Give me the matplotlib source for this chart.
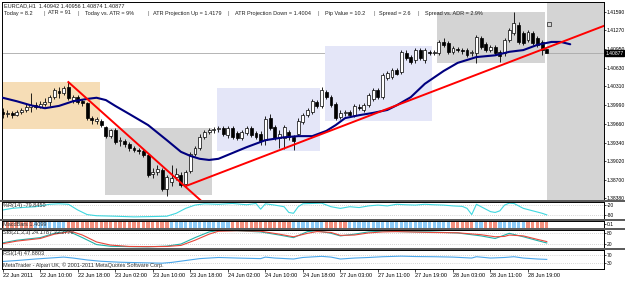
import numpy as np
import matplotlib
matplotlib.use('Agg')
import matplotlib.pyplot as plt
from matplotlib.patches import Rectangle
from matplotlib.transforms import blended_transform_factory

plt.rcParams['font.family'] = ['Liberation Sans', 'DejaVu Sans']

W, H = 625, 281
FS = 4.0
FS_AXIS = 3.6

# ---------------- data ----------------
SYMBOL = "EURCAD,H1"
LAST_OHLC = [1.40942, 1.40956, 1.40874, 1.40877]
HEADER_ITEMS = ["Today = 8.2", "ATR = 91", "Today vs. ATR = 9%",
                "ATR Projection Up = 1.4179", "ATR Projection Down = 1.4004",
                "Pip Value = 10.2", "Spread = 2.6", "Spread vs. ADR = 2.9%"]

OPEN = [1.3986, 1.3983, 1.3985, 1.3981, 1.3986, 1.3990, 1.3995, 1.3998, 1.3995, 1.4000,
        1.4004, 1.4012, 1.4023, 1.4019, 1.4029, 1.4007, 1.4012, 1.4005, 1.4002, 1.3976,
        1.3971, 1.3971, 1.3961, 1.3945, 1.3956, 1.3936, 1.3936, 1.3931, 1.3924, 1.3921,
        1.3919, 1.3912, 1.3880, 1.3883, 1.3886, 1.3854, 1.3866, 1.3875, 1.3878, 1.3863,
        1.3885, 1.3914, 1.3924, 1.3943, 1.3952, 1.3956, 1.3957, 1.3959, 1.3947, 1.3959,
        1.3950, 1.3942, 1.3950, 1.3959, 1.3950, 1.3949, 1.3938, 1.3976, 1.3961, 1.3942,
        1.3942, 1.3952, 1.3943, 1.3949, 1.3969, 1.3981, 1.3986, 1.4004, 1.3997, 1.4021,
        1.4012, 1.4000, 1.3978, 1.3985, 1.3986, 1.3981, 1.3995, 1.3990, 1.3998, 1.4009,
        1.4024, 1.4012, 1.4045, 1.4047, 1.4059, 1.4055, 1.4088, 1.4081, 1.4076, 1.4093,
        1.4076, 1.4090, 1.4088, 1.4088, 1.4107, 1.4105, 1.4090, 1.4095, 1.4093, 1.4093,
        1.4088, 1.4088, 1.4114, 1.4103, 1.4093, 1.4098, 1.4090, 1.4088, 1.4110, 1.4122,
        1.4136, 1.4122, 1.4110, 1.4122, 1.4114, 1.4107, 1.40942]
HIGH = [1.3993, 1.3990, 1.3988, 1.3990, 1.3993, 1.4000, 1.4019, 1.4004, 1.4005, 1.4011,
        1.4016, 1.4028, 1.4029, 1.4031, 1.4038, 1.4016, 1.4016, 1.4009, 1.4004, 1.3980,
        1.3978, 1.3974, 1.3962, 1.3957, 1.3959, 1.3943, 1.3940, 1.3935, 1.3928, 1.3924,
        1.3923, 1.3916, 1.3890, 1.3895, 1.3890, 1.3878, 1.3895, 1.3890, 1.3883, 1.3886,
        1.3918, 1.3928, 1.3949, 1.3956, 1.3959, 1.3961, 1.3962, 1.3962, 1.3962, 1.3962,
        1.3954, 1.3956, 1.3962, 1.3962, 1.3954, 1.3954, 1.3980, 1.3983, 1.3964, 1.3956,
        1.3964, 1.3956, 1.3947, 1.3976, 1.3985, 1.3993, 1.4009, 1.4007, 1.4029, 1.4024,
        1.4016, 1.4004, 1.3990, 1.3990, 1.3990, 1.4000, 1.4000, 1.4002, 1.4019, 1.4028,
        1.4028, 1.4054, 1.4057, 1.4062, 1.4062, 1.4093, 1.4093, 1.4084, 1.4097, 1.4097,
        1.4097, 1.4093, 1.4093, 1.4110, 1.4114, 1.4109, 1.4100, 1.4098, 1.4097, 1.4097,
        1.4093, 1.4119, 1.4117, 1.4107, 1.4102, 1.4102, 1.4093, 1.4114, 1.4131, 1.4158,
        1.4141, 1.4126, 1.4128, 1.4126, 1.4117, 1.4110, 1.40956]
LOW = [1.3976, 1.3978, 1.3976, 1.3980, 1.3983, 1.3986, 1.3986, 1.3992, 1.3993, 1.3997,
       1.3997, 1.4009, 1.4011, 1.4016, 1.4007, 1.4002, 1.4000, 1.3997, 1.3973, 1.3966,
       1.3966, 1.3961, 1.3942, 1.3942, 1.3931, 1.3928, 1.3926, 1.3919, 1.3918, 1.3914,
       1.3909, 1.3875, 1.3873, 1.3878, 1.3850, 1.3842, 1.3859, 1.3870, 1.3857, 1.3859,
       1.3881, 1.3911, 1.3921, 1.3940, 1.3949, 1.3950, 1.3952, 1.3945, 1.3942, 1.3940,
       1.3938, 1.3938, 1.3947, 1.3943, 1.3940, 1.3930, 1.3930, 1.3956, 1.3938, 1.3924,
       1.3923, 1.3938, 1.3921, 1.3945, 1.3966, 1.3978, 1.3983, 1.3993, 1.3993, 1.4009,
       1.3995, 1.3973, 1.3974, 1.3980, 1.3978, 1.3978, 1.3990, 1.3986, 1.3995, 1.4005,
       1.4009, 1.4009, 1.4042, 1.4043, 1.4050, 1.4052, 1.4076, 1.4069, 1.4071, 1.4076,
       1.4071, 1.4084, 1.4084, 1.4084, 1.4098, 1.4086, 1.4086, 1.4090, 1.4086, 1.4081,
       1.4083, 1.4071, 1.4095, 1.4090, 1.4090, 1.4084, 1.4072, 1.4083, 1.4107, 1.4119,
       1.4103, 1.4102, 1.4107, 1.4102, 1.4098, 1.4084, 1.40874]
CLOSE = [1.3983, 1.3985, 1.3981, 1.3986, 1.3990, 1.3995, 1.3998, 1.3995, 1.4000, 1.4004,
         1.4012, 1.4024, 1.4019, 1.4028, 1.4011, 1.4012, 1.4004, 1.4002, 1.3976, 1.3973,
         1.3974, 1.3964, 1.3945, 1.3956, 1.3935, 1.3938, 1.3931, 1.3924, 1.3921, 1.3919,
         1.3912, 1.3878, 1.3883, 1.3888, 1.3854, 1.3875, 1.3873, 1.3880, 1.3861, 1.3883,
         1.3914, 1.3924, 1.3943, 1.3952, 1.3956, 1.3957, 1.3959, 1.3949, 1.3959, 1.3943,
         1.3942, 1.3952, 1.3959, 1.3947, 1.3943, 1.3936, 1.3974, 1.3959, 1.3942, 1.3949,
         1.3961, 1.3943, 1.3936, 1.3971, 1.3981, 1.3990, 1.4005, 1.3997, 1.4024, 1.4012,
         1.3998, 1.3976, 1.3985, 1.3986, 1.3981, 1.3997, 1.3993, 1.3998, 1.4016, 1.4024,
         1.4012, 1.4050, 1.4054, 1.4059, 1.4052, 1.4090, 1.4079, 1.4072, 1.4093, 1.4079,
         1.4093, 1.4088, 1.4090, 1.4107, 1.4102, 1.4090, 1.4097, 1.4093, 1.4091, 1.4084,
         1.4090, 1.4115, 1.4098, 1.4093, 1.4098, 1.4088, 1.4083, 1.4110, 1.4128, 1.4140,
         1.4107, 1.4105, 1.4124, 1.4105, 1.4102, 1.4093, 1.40877]

MA_IDX = [0, 3, 6, 9, 12, 15, 18, 20, 22, 24, 27, 31, 35, 38, 40, 42, 44, 46, 49, 52,
          56, 60, 63, 66, 69, 71, 73, 76, 79, 82, 84, 87, 90, 94, 97, 101, 105, 108, 111, 114,
          117, 119, 121]
MA_VAL = [1.4011, 1.4005, 1.3998, 1.3993, 1.3997, 1.4005, 1.4009, 1.4011, 1.4007, 1.3997,
          1.3983, 1.3964, 1.3938, 1.3918, 1.3911, 1.3906, 1.3904, 1.3906, 1.3916, 1.3926,
          1.3938, 1.3943, 1.3945, 1.3945, 1.3954, 1.3964, 1.3976, 1.3981, 1.3985, 1.3990,
          1.3998, 1.4012, 1.4035, 1.4057, 1.4071, 1.4081, 1.4084, 1.4090, 1.4093, 1.4102,
          1.4107, 1.4107, 1.4103]

# trend lines: (bar, price) anchors
TREND_DOWN = [(14, 1.4038), (42, 1.3836)]
TREND_UP = [(39, 1.3859), (116, 1.4097)]
ARROW_MARK = (116.5, 1.4138)

# session boxes: bar from, bar to, price low, price high, colour
BOXES = [(-1.0, 20.7, 1.3957, 1.4038, '#f6ddb6'),
         (21.8, 44.6, 1.3844, 1.3959, '#d4d4d4'),
         (45.7, 67.7, 1.3919, 1.4028, '#e4e6f8'),
         (68.7, 91.5, 1.3971, 1.4100, '#e4e6f8'),
         (92.6, 115.6, 1.4071, 1.4158, '#d4d4d4')]

PRICE_TICKS = [1.41590, 1.41270, 1.40950, 1.40630, 1.40310, 1.39990,
               1.39660, 1.39340, 1.39020, 1.38700, 1.38380]

TIME_IDX = list(range(0, 113, 8))
TIME_LABELS = ["22 Jun 2011", "22 Jun 10:00", "22 Jun 18:00", "23 Jun 02:00",
               "23 Jun 10:00", "23 Jun 18:00", "24 Jun 02:00", "24 Jun 10:00",
               "24 Jun 18:00", "27 Jun 03:00", "27 Jun 11:00", "27 Jun 19:00",
               "28 Jun 03:00", "28 Jun 11:00", "28 Jun 19:00"]

WPR_IDX = [0, 2, 4, 7, 10, 12, 14, 16, 18, 20, 24, 28, 32, 35, 37, 39, 41, 43, 46, 49,
           52, 54, 55, 56, 58, 60, 61, 62, 63, 64, 66, 68, 70, 72, 74, 76, 78, 80, 82, 84,
           86, 88, 90, 92, 94, 96, 98, 99, 100, 101, 102, 104, 105, 106, 107, 108, 109, 111,
           113, 115, 116]
WPR_VAL = [-50, -40, -35, -30, -15, -12, -15, -50, -78, -85, -88, -92, -90, -88, -70, -40,
           -20, -12, -15, -10, -18, -10, -45, -12, -20, -30, -65, -70, -30, -12, -10, -8,
           -30, -40, -30, -35, -25, -20, -25, -15, -18, -20, -15, -18, -20, -25, -28, -40,
           -78, -15, -30, -60, -65, -55, -20, -8, -10, -40, -55, -70, -79.845]

# MacdBars colour runs (alternating, starting with falling)
MACD_RUNS = [7, 7, 22, 13, 13, 7, 5, 22, 5, 2, 3, 6, 5]

STO_IDX = [0, 3, 8, 11, 14, 15, 17, 20, 23, 27, 31, 35, 38, 41, 44, 46, 50, 55, 59, 62,
           65, 67, 70, 72, 75, 78, 81, 84, 91, 97, 102, 105, 107, 108, 111, 114, 116]
STO_MAIN = [25, 40, 55, 80, 92, 80, 55, 15, 5, 3, 2, 6, 18, 55, 88, 96, 95, 88, 70, 55,
            90, 95, 80, 65, 75, 88, 92, 90, 88, 82, 65, 50, 70, 80, 60, 38, 24.1787]
STO_SIG = [20, 35, 50, 75, 88, 88, 70, 30, 12, 4, 3, 4, 10, 40, 75, 92, 95, 92, 75, 60,
           80, 90, 85, 68, 70, 82, 88, 90, 85, 83, 72, 60, 62, 70, 65, 45, 32.2779]

RSI_IDX = [0, 3, 7, 10, 13, 15, 18, 21, 25, 30, 34, 36, 39, 42, 46, 50, 55, 56, 58, 62,
           64, 68, 70, 72, 75, 78, 81, 85, 88, 92, 96, 100, 101, 104, 107, 109, 111, 114, 116]
RSI_VAL = [37, 42, 50, 55, 60, 55, 45, 38, 33, 30, 28, 32, 42, 52, 58, 55, 52, 60, 55, 50,
           58, 64, 60, 50, 55, 58, 62, 65, 63, 62, 60, 55, 62, 55, 58, 62, 55, 50, 47.8803]

# ---------------- layout helpers ----------------
def rect(x0, y0, x1, y1):
    return [x0 / W, 1 - y1 / H, (x1 - x0) / W, (y1 - y0) / H]


def fx(x):
    return x / W


def fy(y):
    return 1 - y / H


XLIM = (-0.15, 128.2)

fig = plt.figure(figsize=(W / 100, H / 100), dpi=100, facecolor='white')

ax = fig.add_axes(rect(2, 2, 604, 199.5))
ax_wpr = fig.add_axes(rect(2, 201.5, 604, 218.5))
ax_macd = fig.add_axes(rect(2, 220.5, 604, 227.5))
ax_sto = fig.add_axes(rect(2, 229.5, 604, 247.5))
ax_rsi = fig.add_axes(rect(2, 249.5, 604, 268.5))
sub_axes = [ax_wpr, ax_macd, ax_sto, ax_rsi]

# panel separators across the full width
for y0 in (199.5, 218.5, 227.5, 247.5):
    fig.add_artist(Rectangle((0, fy(y0 + 2)), 1, 2 / H, transform=fig.transFigure,
                             facecolor='#5c5c5c', edgecolor='none', zorder=5))

for a in [ax] + sub_axes:
    a.set_xlim(*XLIM)
    a.set_facecolor('white')
    for s in a.spines.values():
        s.set_color('black')
        s.set_linewidth(0.7)
    a.yaxis.tick_right()
    a.tick_params(axis='y', direction='out', length=1.5, width=0.5, pad=0.6,
                  labelsize=FS_AXIS, colors='black')
    a.tick_params(axis='x', bottom=False, labelbottom=False)

# ---------------- main chart ----------------
n = len(CLOSE)
idx = np.arange(n)
o = np.array(OPEN)
c = np.array(CLOSE)
hi = np.array(HIGH)
lo = np.array(LOW)

ax.set_ylim(1.38360, 1.41757)
ax.set_yticks(PRICE_TICKS)
ax.set_yticklabels([f"{p:.5f}" for p in PRICE_TICKS])

# future area on the right
ax.add_patch(Rectangle((idx[-1], 1.3), 30, 0.2, facecolor='#d4d4d4',
                       edgecolor='none', zorder=0))
ax.axhline(LAST_OHLC[3], color='#a8a8a8', lw=0.6, zorder=0.5)

for x0, x1, p0, p1, col in BOXES:
    ax.add_patch(Rectangle((x0, p0), x1 - x0, p1 - p0, facecolor=col,
                           edgecolor='none', zorder=1))

# candles
ax.vlines(idx, lo, hi, color='black', lw=0.6, zorder=3)
up = c >= o
body_lo = np.minimum(o, c)
body_h = np.maximum(np.abs(c - o), 0.00004)
ax.bar(idx[up], body_h[up], bottom=body_lo[up], width=0.62, facecolor='white',
       edgecolor='black', linewidth=0.5, zorder=4)
ax.bar(idx[~up], body_h[~up], bottom=body_lo[~up], width=0.62, facecolor='black',
       edgecolor='black', linewidth=0.5, zorder=4)

ax.plot(MA_IDX, MA_VAL, color='#00007f', lw=1.5, zorder=5, solid_capstyle='round')

# trend lines (rays to the right)
(a0, p0), (a1, p1) = TREND_DOWN
k = (p1 - p0) / (a1 - a0)
ax.plot([a0, a0 + 40], [p0, p0 + 40 * k], color='#ff0000', lw=1.4, zorder=6)
(a0, p0), (a1, p1) = TREND_UP
k = (p1 - p0) / (a1 - a0)
ax.plot([a0, a0 + 100], [p0, p0 + 100 * k], color='#ff0000', lw=1.4, zorder=6)

ax.plot(*ARROW_MARK, marker='s', ms=2.4, mfc='none', mec='#404040', mew=0.6, zorder=6)

# current price tag
tr = blended_transform_factory(ax.transAxes, ax.transData)
ax.text(1.0025, LAST_OHLC[3], f"{LAST_OHLC[3]:.5f}", transform=tr, ha='left', va='center',
        fontsize=FS_AXIS, color='white', zorder=10, clip_on=False,
        bbox=dict(boxstyle='square,pad=0.1', facecolor='black', edgecolor='black'))

# ---------------- header ----------------
fig.text(fx(4), fy(5.5), SYMBOL + "  " + " ".join(f"{v:.5f}" for v in LAST_OHLC),
         fontsize=FS, va='center', ha='left', color='#202020')
item_x = [4, 48, 85, 153, 235, 325, 379, 425]
sep_x = [43, 78, 147, 228, 318, 373, 418]
for t, x in zip(HEADER_ITEMS, item_x):
    fig.text(fx(x), fy(13), t, fontsize=FS, va='center', ha='left', color='#202020')
for x in sep_x:
    fig.text(fx(x), fy(13), "|", fontsize=FS, va='center', ha='left', color='#606060')

# ---------------- %R ----------------
ax_wpr.set_ylim(-102, 2)
ax_wpr.set_yticks([-20, -80])
ax_wpr.set_yticklabels(["-20", "-80"])
for lv in (-20, -80):
    ax_wpr.axhline(lv, color='#b0b0b0', lw=0.5, ls=(0, (1, 2)))
ax_wpr.plot(WPR_IDX, WPR_VAL, color='#3fd8e0', lw=0.8)
fig.text(fx(3), fy(205.5), f"%R(14) {WPR_VAL[-1]:.4f}", fontsize=FS, va='center',
         color='#303030')

# ---------------- MacdBars ----------------
ax_macd.set_ylim(0, 1)
ax_macd.set_yticks([0.5])
ax_macd.set_yticklabels(["0.1"])
colors = []
for i, r in enumerate(MACD_RUNS):
    colors += ['#f4907e' if i % 2 == 0 else '#8ccaf6'] * r
ax_macd.bar(idx, 1, width=0.72, bottom=0, color=colors, linewidth=0)
fig.text(fx(3), fy(224), "MacdBars 1.4099", fontsize=FS, va='center', color='#303030')

# ---------------- Stochastic ----------------
ax_sto.set_ylim(-2, 102)
ax_sto.set_yticks([80, 20])
ax_sto.set_yticklabels(["80", "20"])
for lv in (20, 80):
    ax_sto.axhline(lv, color='#b0b0b0', lw=0.5, ls=(0, (1, 2)))
ax_sto.plot(STO_IDX, STO_MAIN, color='#20b2aa', lw=0.8)
ax_sto.plot(STO_IDX, STO_SIG, color='#e8483c', lw=0.8)
fig.text(fx(3), fy(232.5), f"Sto(21,3,3) {STO_MAIN[-1]:.4f} {STO_SIG[-1]:.4f}",
         fontsize=FS, va='center', color='#303030')

# ---------------- RSI ----------------
ax_rsi.set_ylim(0, 100)
ax_rsi.set_yticks([70, 30])
ax_rsi.set_yticklabels(["70", "30"])
for lv in (30, 70):
    ax_rsi.axhline(lv, color='#b0b0b0', lw=0.5, ls=(0, (1, 2)))
ax_rsi.plot(RSI_IDX, RSI_VAL, color='#4aa6ea', lw=0.8)
fig.text(fx(3), fy(254), f"RSI(14) {RSI_VAL[-1]:.4f}", fontsize=FS, va='center',
         color='#303030')
fig.text(fx(3), fy(265), "MetaTrader - Alpari UK, \u00a9 2001-2011 MetaQuotes Software Corp.",
         fontsize=FS, va='center', color='#303030')

ax_rsi.set_xticks(TIME_IDX)
ax_rsi.set_xticklabels(TIME_LABELS, ha='left')
ax_rsi.tick_params(axis='x', bottom=True, labelbottom=True, direction='out', length=2,
                   width=0.5, pad=1.5, labelsize=FS, colors='black')

fig.savefig('out.png', dpi=100)
